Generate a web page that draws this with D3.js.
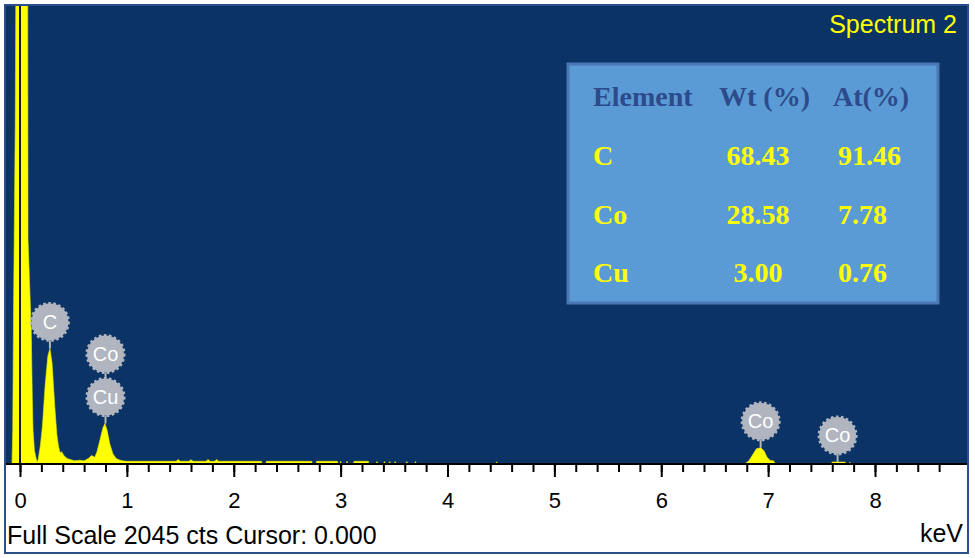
<!DOCTYPE html>
<html>
<head>
<meta charset="utf-8">
<script src="https://cdn.jsdelivr.net/npm/d3@7"></script>
<style>
  body { margin: 0; background: #ffffff; }
  svg { display: block; }
</style>
</head>
<body>
<script>
(function () {

// spectrum (keV, counts)
var specKeV = [-0.14, -0.075, -0.068, -0.06, -0.045, -0.03, 0.07, 0.075, 0.09, 0.105, 0.115, 0.122, 0.135, 0.15, 0.16,
  0.17, 0.19, 0.21, 0.235, 0.26, 0.28, 0.3, 0.325, 0.345, 0.36, 0.375, 0.39, 0.41, 0.44, 0.47, 0.51, 0.56, 0.6,
  0.64, 0.67, 0.7, 0.72, 0.75, 0.775, 0.795, 0.815, 0.84, 0.87, 0.9, 0.93, 0.96, 1.0, 1.2, 1.46, 1.48, 1.5,
  1.58, 1.6, 1.62, 1.74, 1.76, 1.78, 1.82, 1.84, 1.86, 2.26, 2.265, 2.3, 2.305, 2.73, 2.735, 2.77, 2.775,
  2.97, 2.975, 2.99, 3.0, 3.01, 3.05, 3.06, 3.07, 3.12, 3.125, 3.26, 3.265,
  3.33, 3.34, 3.35, 3.4, 3.41, 3.42, 3.45, 3.46, 3.47, 3.5, 3.51, 3.52, 3.61, 3.62, 3.63, 3.69, 3.7, 3.71,
  4.45, 4.46, 4.47,
  6.78, 6.82, 6.86, 6.89, 6.93, 6.96, 6.99, 7.02, 7.05, 7.07,
  7.59, 7.6, 7.72, 7.73, 7.755, 7.765, 7.775, 8.87];
var specCts = [0, 0, 150, 700, 1500, 3000, 3000, 1000, 800, 600, 300, 150, 60, 27, 8,
  20, 80, 170, 350, 480, 515, 450, 260, 130, 80, 50, 55, 38, 25, 20, 14, 17, 14,
  25, 38, 30, 55, 110, 160, 180, 150, 90, 45, 25, 18, 14, 12, 12, 12, 20, 12,
  12, 19, 12, 12, 20, 12, 12, 20, 12, 12, 0, 0, 12, 12, 0, 0, 12,
  12, 0, 0, 12, 0, 0, 12, 0, 0, 12, 12, 0,
  0, 11, 0, 0, 11, 0, 0, 11, 0, 0, 11, 0, 0, 11, 0, 0, 11, 0,
  0, 10, 0,
  0, 15, 45, 68, 72, 60, 30, 16, 14, 0,
  0, 9, 9, 0, 0, 8, 0, 0];

// peak labels
var labelNames = ["C", "Cu", "Co", "Co", "Co"];
var labelKeV = [0.28, 0.8, 0.8, 6.93, 7.65];
var labelCts = [515, 180, 180, 72, 9];
var labelStack = [0, 0, 1, 0, 0];

// quantification table
var tableHead = ["Element", "Wt (%)", "At(%)"];
var elements = ["C", "Co", "Cu"];
var wtPct = ["68.43", "28.58", "3.00"];
var atPct = ["91.46", "7.78", "0.76"];

var majorTicks = [0, 1, 2, 3, 4, 5, 6, 7, 8];
var minorTicks = d3.range(0, 44).map(function(i) { return i / 5 });

var width = 975,
    height = 558,
    plotLeft = 5,
    plotRight = 968,
    plotTop = 5,
    baseY = 464;

var svg = d3.select("body")
  .append("svg")
  .attr("width", width)
  .attr("height", height)

var x = d3.scaleLinear().domain([0, 8]).range([20, 875])
var y = d3.scaleLinear().domain([0, 2045]).range([baseY, plotTop])

var sans = "'Liberation Sans', Arial, sans-serif"
var serif = "'Liberation Serif', 'Times New Roman', serif"

svg.append("rect")
  .attr("x", plotLeft)
  .attr("y", plotTop)
  .attr("width", plotRight - plotLeft)
  .attr("height", baseY - plotTop)
  .attr("fill", "#0b3366")

svg.append("clipPath")
  .attr("id", "plotclip")
  .append("rect")
  .attr("x", plotLeft)
  .attr("y", plotTop)
  .attr("width", plotRight - plotLeft)
  .attr("height", baseY - plotTop)

var spectrum = specKeV.map(function(k, i) { return { kev: k, cts: specCts[i] } })

var area = d3.area()
  .x(function(d) { return x(d.kev) })
  .y0(y(0))
  .y1(function(d) { return y(d.cts) })

svg.append("path")
  .datum(spectrum)
  .attr("clip-path", "url(#plotclip)")
  .attr("d", area)
  .attr("fill", "#ffff00")
  .attr("stroke", "#e8e800")
  .attr("stroke-width", 0.6)

// cursor line at 0 keV
svg.append("line")
  .attr("x1", x(0))
  .attr("x2", x(0))
  .attr("y1", plotTop)
  .attr("y2", baseY)
  .attr("stroke", "#1a1a1a")
  .attr("stroke-width", 2)

// axis
var minorAxis = svg.append("g")
  .attr("transform", "translate(0 " + baseY + ")")
  .call(d3.axisBottom(x).tickValues(minorTicks).tickSize(8).tickFormat(""))
minorAxis.select(".domain").remove()
minorAxis.selectAll("line").attr("stroke", "#000").attr("stroke-width", 2)

var majorAxis = svg.append("g")
  .attr("transform", "translate(0 " + baseY + ")")
  .call(d3.axisBottom(x).tickValues(majorTicks).tickSize(13).tickFormat(d3.format("d")))
majorAxis.select(".domain").remove()
majorAxis.selectAll("line").attr("stroke", "#000").attr("stroke-width", 2)
majorAxis.selectAll("text")
  .attr("y", 44)
  .attr("dy", 0)
  .attr("fill", "#000")
  .style("font-family", sans)
  .style("font-size", "22px")

svg.append("line")
  .attr("x1", plotLeft)
  .attr("x2", plotRight)
  .attr("y1", baseY)
  .attr("y2", baseY)
  .attr("stroke", "#000")
  .attr("stroke-width", 2)

// peak balloons
var balloonR = 18.5,
    stemLen = 8,
    stackGap = 43;

var labels = labelNames.map(function(n, i) {
  return { name: n, kev: labelKeV[i], cts: labelCts[i], stack: labelStack[i] }
})

var balloons = svg.selectAll(".balloon")
  .data(labels)
  .enter().append("g")
  .attr("class", "balloon")
  .attr("transform", function(d) {
    var cy = y(d.cts) - stemLen - balloonR - d.stack * stackGap
    return "translate(" + x(d.kev) + " " + cy + ")"
  })

balloons.append("line")
  .attr("x1", 0)
  .attr("x2", 0)
  .attr("y1", balloonR)
  .attr("y2", function(d) { return balloonR + stemLen + (d.stack ? stackGap - 2 * balloonR - stemLen : 0) })
  .attr("stroke", "#b0b5bf")
  .attr("stroke-width", 2)

balloons.append("circle")
  .attr("r", balloonR)
  .attr("fill", "#b0b5bf")
  .attr("stroke", "#b0b5bf")
  .attr("stroke-width", 3)
  .attr("stroke-dasharray", "2.5 2.5")

balloons.append("text")
  .text(function(d) { return d.name })
  .attr("text-anchor", "middle")
  .attr("dy", 7)
  .attr("fill", "#ffffff")
  .style("font-family", sans)
  .style("font-size", "20px")

// spectrum title
svg.append("text")
  .text("Spectrum 2")
  .attr("x", 957)
  .attr("y", 33)
  .attr("text-anchor", "end")
  .attr("fill", "#ffff00")
  .style("font-family", sans)
  .style("font-size", "25px")

// table box
svg.append("rect")
  .attr("x", 568)
  .attr("y", 64)
  .attr("width", 370)
  .attr("height", 239)
  .attr("fill", "#5b9bd5")
  .attr("stroke", "#4a78b4")
  .attr("stroke-width", 3)

var headX = [593, 719, 833]
svg.selectAll(".head")
  .data(tableHead)
  .enter().append("text")
  .attr("class", "head")
  .text(function(d) { return d })
  .attr("x", function(d, i) { return headX[i] })
  .attr("y", 106)
  .attr("fill", "#2c4a8c")
  .style("font-family", serif)
  .style("font-weight", "bold")
  .style("font-size", "28px")

var rowY = d3.scalePoint().domain(elements).range([165, 282])

var rows = svg.selectAll(".row")
  .data(elements)
  .enter().append("g")
  .attr("class", "row")
  .attr("transform", function(d) { return "translate(0 " + rowY(d) + ")" })
  .style("font-family", serif)
  .style("font-weight", "bold")
  .style("font-size", "28px")
  .attr("fill", "#ffff00")

rows.append("text")
  .text(function(d) { return d })
  .attr("x", 593)

rows.append("text")
  .text(function(d, i) { return wtPct[i] })
  .attr("x", 758)
  .attr("text-anchor", "middle")

rows.append("text")
  .text(function(d, i) { return atPct[i] })
  .attr("x", 838)

// footer
svg.append("text")
  .text("Full Scale 2045 cts Cursor: 0.000")
  .attr("x", 7)
  .attr("y", 544)
  .attr("fill", "#000")
  .style("font-family", sans)
  .style("font-size", "25px")

svg.append("text")
  .text("keV")
  .attr("x", 963)
  .attr("y", 542)
  .attr("text-anchor", "end")
  .attr("fill", "#000")
  .style("font-family", sans)
  .style("font-size", "25px")

// outer frame
svg.append("rect")
  .attr("x", plotLeft)
  .attr("y", plotTop)
  .attr("width", plotRight - plotLeft)
  .attr("height", 548)
  .attr("fill", "none")
  .attr("stroke", "#2a4f8a")
  .attr("stroke-width", 2)

}())
</script>
</body>
</html>
